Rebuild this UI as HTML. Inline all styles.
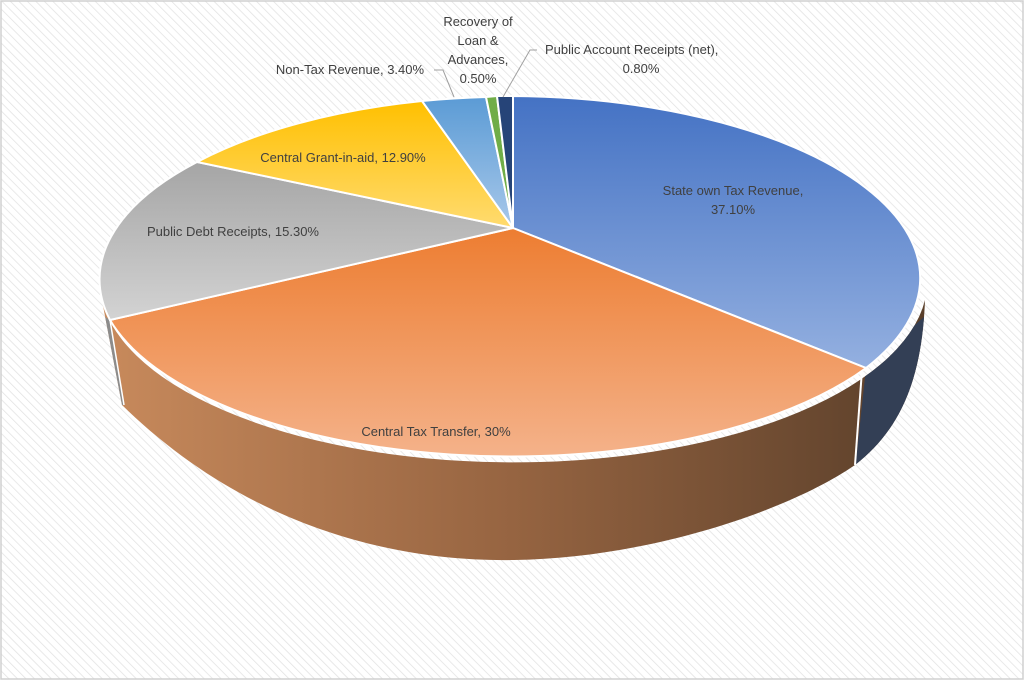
<!DOCTYPE html>
<html><head><meta charset="utf-8"><style>
body{margin:0;width:1024px;height:680px;overflow:hidden;background:#fff}
svg text{font-family:"Liberation Sans",sans-serif;font-size:13px;fill:#404040}
</style></head><body>
<svg width="1024" height="680" viewBox="0 0 1024 680">
<defs>
<pattern id="hatch" width="6" height="6" patternUnits="userSpaceOnUse" patternTransform="rotate(-45)">
<rect width="6" height="6" fill="#fff"/><line x1="0" y1="0" x2="0" y2="6" stroke="#e2e2e2" stroke-width="1.5"/></pattern>
<linearGradient id="side" x1="0" x2="1" y1="0" y2="0"><stop offset="0" stop-color="#c88a5c"/><stop offset="0.5" stop-color="#966441"/><stop offset="1" stop-color="#5a3f2a"/></linearGradient>
<linearGradient id="gBlue" x1="0" x2="0" y1="0" y2="1"><stop offset="0" stop-color="#4472c4"/><stop offset="1" stop-color="#94b0e0"/></linearGradient>
<linearGradient id="gOr" x1="0" x2="0" y1="0" y2="1"><stop offset="0" stop-color="#ed7d31"/><stop offset="1" stop-color="#f4b28a"/></linearGradient>
<linearGradient id="gGr" x1="0" x2="0" y1="0" y2="1"><stop offset="0" stop-color="#a5a5a5"/><stop offset="1" stop-color="#d3d3d3"/></linearGradient>
<linearGradient id="gY" x1="0" x2="0" y1="0" y2="1"><stop offset="0" stop-color="#ffc000"/><stop offset="1" stop-color="#ffdb70"/></linearGradient>
<linearGradient id="gLB" x1="0" x2="0" y1="0" y2="1"><stop offset="0" stop-color="#5b9bd5"/><stop offset="1" stop-color="#a8c8ea"/></linearGradient>
<clipPath id="cR"><polygon points="866,368 855,470 1000,470 1000,250"/></clipPath>
<clipPath id="cL"><polygon points="0,250 110,320 124,405 0,420"/></clipPath>
</defs>
<rect x="1" y="1" width="1022" height="678" fill="url(#hatch)" stroke="#d0d0d0" stroke-width="1.5"/>
<g>
<path d="M100,290 L122,405 C250,530 400,562 514,560 C650,558 790,510 855,465 C900,430 922,380 925,300 A414,182 0 0 1 100,290Z" fill="url(#side)"/>
<path d="M100,290 L122,405 C250,530 400,562 514,560 C650,558 790,510 855,465 C900,430 922,380 925,300 A414,182 0 0 1 100,290Z" fill="#333f55" clip-path="url(#cR)"/>
<path d="M100,290 L122,405 C250,530 400,562 514,560 C650,558 790,510 855,465 C900,430 922,380 925,300 A414,182 0 0 1 100,290Z" fill="#8c8c8c" clip-path="url(#cL)"/>
</g>
<line x1="862" y1="370" x2="855" y2="465" stroke="#fff" stroke-width="2"/>
<line x1="110" y1="320" x2="124" y2="405" stroke="#fff" stroke-width="1.5"/>
<g stroke="#fff" stroke-width="2">
<path d="M513,228 L513,96 A414,182 0 0 1 866,368 Z" fill="url(#gBlue)"/>
<path d="M513,228 L866,368 A414,182 0 0 1 110,320 Z" fill="url(#gOr)"/>
<path d="M513,228 L110,320 A414,182 0 0 1 197,162 Z" fill="url(#gGr)"/>
<path d="M513,228 L197,162 A414,182 0 0 1 422,101 Z" fill="url(#gY)"/>
<path d="M513,228 L422,101 A414,182 0 0 1 486,97 Z" fill="url(#gLB)"/>
<path d="M513,228 L486,97 A414,182 0 0 1 497,96 Z" fill="#70ad47"/>
<path d="M513,228 L497,96 A414,182 0 0 1 513,96 Z" fill="#264478"/>
</g>
<g fill="none" stroke="#a0a0a0" stroke-width="1">
<polyline points="434,70 443,70 454,97"/>
<polyline points="537,50 530,50 503,97"/>
</g>
<text x="733" y="195" text-anchor="middle">State own Tax Revenue,</text>
<text x="733" y="214" text-anchor="middle">37.10%</text>
<text x="436" y="436" text-anchor="middle">Central Tax Transfer, 30%</text>
<text x="233" y="236" text-anchor="middle">Public Debt Receipts, 15.30%</text>
<text x="343" y="162" text-anchor="middle">Central Grant-in-aid, 12.90%</text>
<text x="350" y="74" text-anchor="middle">Non-Tax Revenue, 3.40%</text>
<text x="478" y="26" text-anchor="middle">Recovery of</text>
<text x="478" y="45" text-anchor="middle">Loan &amp;</text>
<text x="478" y="64" text-anchor="middle">Advances,</text>
<text x="478" y="83" text-anchor="middle">0.50%</text>
<text x="545" y="54">Public Account Receipts (net),</text>
<text x="641" y="73" text-anchor="middle">0.80%</text>
</svg>
</body></html>
